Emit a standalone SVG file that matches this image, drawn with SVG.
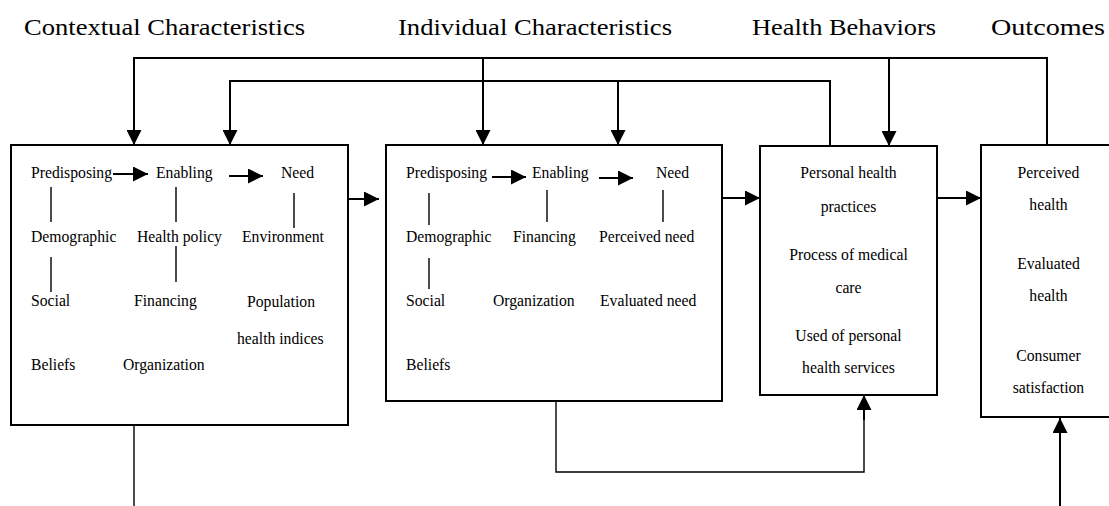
<svg xmlns="http://www.w3.org/2000/svg" width="1109" height="506" viewBox="0 0 1109 506">
<style>
text{font-family:"Liberation Serif","Times New Roman",serif;fill:#000}
.h{font-size:24px}
.t{font-size:15.7px}
.c{text-anchor:middle}
.box{fill:#fff;stroke:#000;stroke-width:2}
.con{fill:none;stroke:#000;stroke-width:2}
.thin{fill:none;stroke:#000;stroke-width:1.4}
</style>
<defs>
<marker id="ah" markerUnits="userSpaceOnUse" markerWidth="16" markerHeight="15" refX="15" refY="7.5" orient="auto">
<path d="M0,0 L15,7.5 L0,15 Z" fill="#000"/>
</marker>
</defs>
<rect width="1109" height="506" fill="#fff"/>
<g id="headers">
<text class="h" x="24" y="35" textLength="281" lengthAdjust="spacingAndGlyphs">Contextual Characteristics</text>
<text class="h" x="398" y="35" textLength="274" lengthAdjust="spacingAndGlyphs">Individual Characteristics</text>
<text class="h" x="752" y="35" textLength="184" lengthAdjust="spacingAndGlyphs">Health Behaviors</text>
<text class="h" x="991" y="35" textLength="114" lengthAdjust="spacingAndGlyphs">Outcomes</text>
</g>
<g id="contextual">
<rect class="box" x="11" y="145" width="337" height="280"/>
<text class="t" x="31" y="178">Predisposing</text>
<text class="t" x="156" y="178">Enabling</text>
<text class="t" x="281" y="178">Need</text>
<text class="t" x="31" y="242">Demographic</text>
<text class="t" x="137" y="242">Health policy</text>
<text class="t" x="242" y="242">Environment</text>
<text class="t" x="31" y="306">Social</text>
<text class="t" x="134" y="306">Financing</text>
<text class="t" x="247" y="307">Population</text>
<text class="t" x="237" y="344">health indices</text>
<text class="t" x="31" y="370">Beliefs</text>
<text class="t" x="123" y="370">Organization</text>
<path class="con" d="M113,174 H148" marker-end="url(#ah)"/>
<path class="con" d="M229,176 H263" marker-end="url(#ah)"/>
<path class="thin" d="M51,187 V222 M51,257 V292 M176,187 V222 M176,246 V282 M294,193 V228"/>
</g>
<g id="individual">
<rect class="box" x="386" y="145" width="336" height="256"/>
<text class="t" x="406" y="178">Predisposing</text>
<text class="t" x="532" y="178">Enabling</text>
<text class="t" x="656" y="178">Need</text>
<text class="t" x="406" y="242">Demographic</text>
<text class="t" x="513" y="242">Financing</text>
<text class="t" x="599" y="242">Perceived need</text>
<text class="t" x="406" y="306">Social</text>
<text class="t" x="493" y="306">Organization</text>
<text class="t" x="600" y="306">Evaluated need</text>
<text class="t" x="406" y="370">Beliefs</text>
<path class="con" d="M492,177 H526" marker-end="url(#ah)"/>
<path class="con" d="M599,178 H633" marker-end="url(#ah)"/>
<path class="thin" d="M429,193 V225 M429,258 V289 M547,190 V222 M663,190 V222"/>
</g>
<g id="behaviors">
<rect class="box" x="760" y="146" width="177" height="249"/>
<text class="t c" x="848.5" y="178">Personal health</text>
<text class="t c" x="848.5" y="212">practices</text>
<text class="t c" x="848.5" y="260">Process of medical</text>
<text class="t c" x="848.5" y="293">care</text>
<text class="t c" x="848.5" y="341">Used of personal</text>
<text class="t c" x="848.5" y="373">health services</text>
</g>
<g id="outcomes">
<rect class="box" x="981" y="145" width="140" height="272"/>
<text class="t c" x="1048.5" y="178">Perceived</text>
<text class="t c" x="1048.5" y="210">health</text>
<text class="t c" x="1048.5" y="269">Evaluated</text>
<text class="t c" x="1048.5" y="301">health</text>
<text class="t c" x="1048.5" y="361">Consumer</text>
<text class="t c" x="1048.5" y="393">satisfaction</text>
</g>
<g id="connectors">
<path class="con" d="M134,145 V58 H1047 V145"/>
<path class="con" d="M134,60 V145" marker-end="url(#ah)"/>
<path class="con" d="M483,58 V145" marker-end="url(#ah)"/>
<path class="con" d="M889,58 V146" marker-end="url(#ah)"/>
<path class="con" d="M230,145 V81 H830 V146"/>
<path class="con" d="M230,83 V145" marker-end="url(#ah)"/>
<path class="con" d="M618,81 V145" marker-end="url(#ah)"/>
<path class="con" d="M348,199 H379" marker-end="url(#ah)"/>
<path class="con" d="M722,198 H760" marker-end="url(#ah)"/>
<path class="con" d="M937,198 H981" marker-end="url(#ah)"/>
<path class="thin" d="M134,425 V506"/>
<path class="thin" d="M556,401 V472 H864 V410"/>
<path class="con" d="M864,420 V395" marker-end="url(#ah)"/>
<path class="con" d="M1060,506 V418" marker-end="url(#ah)"/>
</g>
</svg>
